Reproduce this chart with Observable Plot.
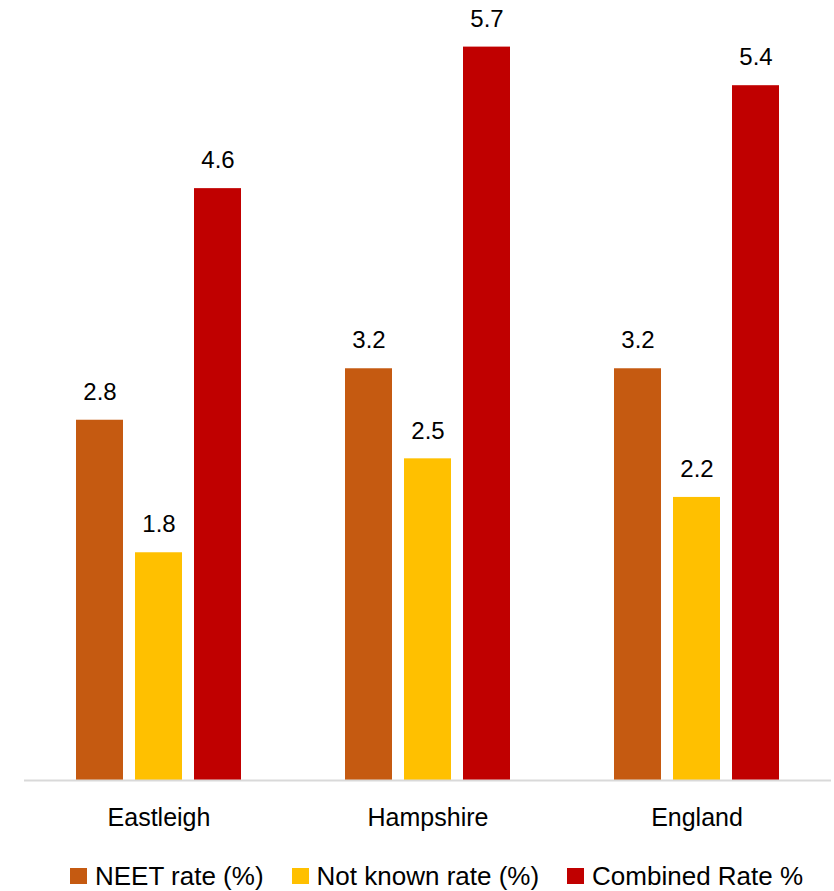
<!DOCTYPE html>
<html>
<head>
<meta charset="utf-8">
<script src="https://cdn.jsdelivr.net/npm/d3@7"></script>
<script src="https://cdn.jsdelivr.net/npm/@observablehq/plot@0.6"></script>
<style>
  body { margin: 0; background: #fff; font-family: "Liberation Sans", Arial, sans-serif; }
  #legend { display: flex; justify-content: flex-start; padding-left: 70px; gap: 28px; font-size: 26px; color: #000; margin-top: 9px; line-height: 30px; }
  #legend span.item { display: flex; align-items: center; }
  #legend span.sw { width: 17px; height: 16px; display: inline-block; margin-right: 8px; }
</style>
</head>
<body>
<div id="chart"></div>
<div id="legend"></div>
<script>
const areas = ["Eastleigh", "Hampshire", "England"];
const series = ["NEET rate (%)", "Not known rate (%)", "Combined Rate %"];
const colors = ["#C55A11", "#FFC000", "#C00000"];
const neet = [2.8, 3.2, 3.2];
const notKnown = [1.77, 2.5, 2.2];
const combined = [4.6, 5.7, 5.4];

const data = [];
areas.forEach((a, i) => {
  data.push({area: a, series: series[0], value: neet[i]});
  data.push({area: a, series: series[1], value: notKnown[i]});
  data.push({area: a, series: series[2], value: combined[i]});
});

const chart = Plot.plot({
  width: 834,
  height: 852,
  marginLeft: 23,
  marginRight: 2,
  marginTop: 8,
  marginBottom: 72,
  style: {fontFamily: "Liberation Sans, Arial, sans-serif", background: "#fff"},
  fx: {domain: areas, padding: 0, label: null, axis: null},
  x: {domain: series, paddingInner: 0.2, paddingOuter: 0.8475, axis: null},
  y: {domain: [0, 6], axis: null},
  color: {domain: series, range: colors},
  marks: [
    Plot.barY(data, {fx: "area", x: "series", y: "value", fill: "series"}),
    Plot.ruleY([0], {stroke: "#d9d9d9", strokeWidth: 2}),
    Plot.text(data, {fx: "area", x: "series", y: "value", text: d => d.value.toFixed(1), dy: -28, fontSize: 24, fill: "#000"}),
    Plot.axisFx({anchor: "bottom", tickSize: 0, tickPadding: 28, fontSize: 25, fill: "#000", label: null})
  ]
});
document.getElementById("chart").appendChild(chart);

const legend = document.getElementById("legend");
series.forEach((s, i) => {
  const it = document.createElement("span");
  it.className = "item";
  const sw = document.createElement("span");
  sw.className = "sw";
  sw.style.background = colors[i];
  it.appendChild(sw);
  it.appendChild(document.createTextNode(s));
  legend.appendChild(it);
});
</script>
</body>
</html>
